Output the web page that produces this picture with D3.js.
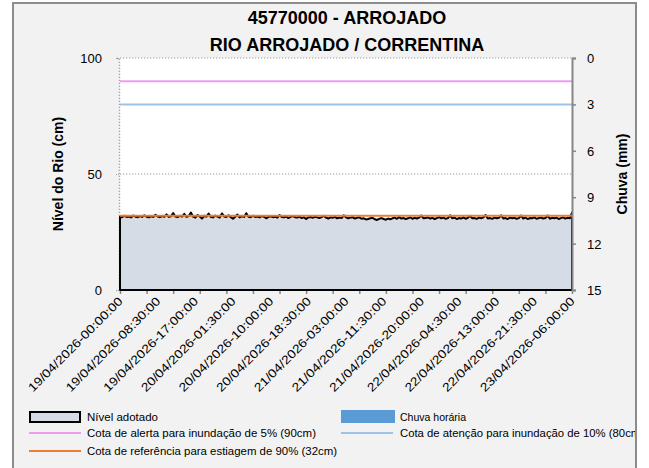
<!DOCTYPE html>
<html>
<head>
<meta charset="utf-8">
<script src="https://cdn.jsdelivr.net/npm/d3@7"></script>
<style>
  body { margin: 0; background: #ffffff; }
  text { font-family: "Liberation Sans", Arial, sans-serif; }
</style>
</head>
<body>
<div id="viz"></div>
<script>
const width = 649;
const height = 468;
const plot = {left: 120, right: 572, top: 58, bottom: 290};

const titleLines = ['45770000 - ARROJADO', 'RIO ARROJADO / CORRENTINA'];
const startTime = '19/04/2026-00:00:00';
const stepMinutes = 30;

// nivel adotado (cm), one value every 30 min from 19/04 00:00 to 23/04 06:00
const nivel = [
  31.6, 31.4, 32.0, 31.5, 31.7, 31.3, 32.1, 31.6, 31.4, 31.9,
  31.5, 32.2, 31.6, 31.3, 31.8, 31.5, 32.4, 31.7, 31.4, 31.9,
  31.6, 32.6, 31.5, 31.8, 33.2, 31.7, 31.4, 32.0, 31.6, 32.8,
  31.5, 31.9, 33.4, 31.6, 31.2, 32.3, 31.7, 30.8, 32.0, 31.6,
  32.9, 31.5, 31.3, 32.1, 31.6, 31.2, 33.0, 31.7, 31.5, 32.2,
  31.4, 30.7, 31.6, 32.5, 31.3, 31.8, 31.5, 33.1, 31.6, 31.4,
  32.0, 31.5, 31.7, 31.3, 31.9, 31.6, 30.9, 31.5, 31.8, 31.4,
  31.6, 31.2, 32.3, 31.5, 31.3, 31.7, 31.0, 31.5, 31.9, 31.4,
  31.2, 31.6, 31.0, 31.4, 30.6, 31.3, 31.5, 31.1, 31.6, 31.3,
  31.0, 31.4, 32.0, 31.2, 30.8, 31.3, 31.1, 31.5, 30.9, 31.2,
  31.0, 32.2, 31.3, 30.9, 31.2, 31.4, 30.8, 31.1, 31.3, 30.7,
  30.9, 30.4, 30.6, 30.9, 31.1, 30.5, 30.2, 30.7, 31.0, 30.6,
  30.3, 30.8, 30.5, 30.9, 31.2, 30.7, 31.4, 30.8, 31.0, 30.6,
  30.9, 31.3, 30.7, 31.1, 30.8, 31.2, 32.1, 30.9, 31.0, 31.3,
  30.8, 31.1, 30.6, 31.0, 31.4, 30.9, 31.2, 30.7, 31.0, 32.2,
  30.9, 31.2, 30.6, 31.0, 30.8, 31.3, 30.7, 31.1, 32.0, 30.9,
  31.0, 30.7, 31.2, 30.9, 31.3, 32.3, 30.8, 31.0, 30.7, 31.2,
  30.9, 31.1, 32.2, 30.8, 31.0, 30.6, 31.2, 30.9, 31.1, 30.7,
  31.0, 32.1, 30.8, 31.2, 30.6, 31.0, 30.9, 31.3, 30.7, 31.0,
  31.2, 30.8, 31.0, 32.1, 30.7, 31.1, 30.9, 31.2, 30.6, 31.0,
  31.3, 30.8, 31.1, 30.9, 33.4
];

const cotaAlerta = 90;
const cotaAtencao = 80;
const cotaReferencia = 32;

const xLabels = [
  '19/04/2026-00:00:00', '19/04/2026-08:30:00', '19/04/2026-17:00:00',
  '20/04/2026-01:30:00', '20/04/2026-10:00:00', '20/04/2026-18:30:00',
  '21/04/2026-03:00:00', '21/04/2026-11:30:00', '21/04/2026-20:00:00',
  '22/04/2026-04:30:00', '22/04/2026-13:00:00', '22/04/2026-21:30:00',
  '23/04/2026-06:00:00'
];
const xTickMarks = [
  '19/04/2026-00:00:00', '19/04/2026-06:00:00', '19/04/2026-12:00:00', '19/04/2026-18:00:00',
  '20/04/2026-00:00:00', '20/04/2026-06:00:00', '20/04/2026-12:00:00', '20/04/2026-18:00:00',
  '21/04/2026-00:00:00', '21/04/2026-06:00:00', '21/04/2026-12:00:00', '21/04/2026-18:00:00',
  '22/04/2026-00:00:00', '22/04/2026-06:00:00', '22/04/2026-12:00:00', '22/04/2026-18:00:00',
  '23/04/2026-00:00:00', '23/04/2026-06:00:00'
];
const yTicks = [0, 50, 100];
const chuvaTicks = [0, 3, 6, 9, 12, 15];

const colors = {
  area: '#d6dce5', alerta: '#ef9cef', atencao: '#9dc3e6',
  referencia: '#ed7d31', chuva: '#5b9bd5'
};

const parse = d3.utcParse('%d/%m/%Y-%H:%M:%S');
const t0 = parse(startTime);
const data = nivel.map((v, i) => ({date: d3.utcMinute.offset(t0, i * stepMinutes), value: v}));

const svg = d3.select('#viz').append('svg')
  .attr('width', width)
  .attr('height', height);

// chart frame
svg.append('rect')
  .attr('x', 13).attr('y', 3)
  .attr('width', 623).attr('height', 475)
  .attr('fill', '#f2f2f2')
  .attr('stroke', '#8c8c8c').attr('stroke-width', 2);

svg.append('clipPath').attr('id', 'frameClip')
  .append('rect').attr('x', 14).attr('y', 4).attr('width', 621).attr('height', 470);

const x = d3.scaleUtc()
  .domain(d3.extent(data, d => d.date))
  .range([plot.left, plot.right]);
const y = d3.scaleLinear().domain([0, 100]).range([plot.bottom, plot.top]);
const yChuva = d3.scaleLinear().domain([0, 15]).range([plot.top, plot.bottom]);

svg.append('rect')
  .attr('x', plot.left).attr('y', plot.top)
  .attr('width', plot.right - plot.left).attr('height', plot.bottom - plot.top)
  .attr('fill', '#ffffff');

// gridlines
svg.append('g').selectAll('line')
  .data(yTicks.filter(d => d > 0))
  .join('line')
  .attr('x1', plot.left).attr('x2', plot.right)
  .attr('y1', d => y(d)).attr('y2', d => y(d))
  .attr('stroke', '#bfbfbf').attr('stroke-width', 1.3)
  .attr('stroke-dasharray', '1.3,1.7');

// left axis (dotted)
const yAxis = svg.append('g')
  .attr('transform', `translate(${plot.left - 1},0)`)
  .call(d3.axisLeft(y).tickValues(yTicks).tickSize(3).tickPadding(14));
yAxis.select('.domain').attr('stroke', '#a6a6a6').attr('stroke-width', 1.5).attr('stroke-dasharray', '1.3,1.7');
yAxis.selectAll('.tick line').attr('stroke', '#a6a6a6').attr('stroke-dasharray', '1,1');
yAxis.selectAll('text').attr('font-size', 13).attr('fill', '#000').attr('dy', '0.35em');

// level area
const area = d3.area()
  .x(d => x(d.date))
  .y0(y(0))
  .y1(d => y(d.value));
svg.append('path')
  .datum(data)
  .attr('d', area)
  .attr('fill', colors.area)
  .attr('stroke', '#000')
  .attr('stroke-width', 2)
  .attr('stroke-linejoin', 'round');

// reference lines
const refs = [
  {value: cotaAlerta, color: colors.alerta},
  {value: cotaAtencao, color: colors.atencao},
  {value: cotaReferencia, color: colors.referencia}
];
svg.append('g').selectAll('line')
  .data(refs)
  .join('line')
  .attr('x1', plot.left).attr('x2', plot.right)
  .attr('y1', d => y(d.value)).attr('y2', d => y(d.value))
  .attr('stroke', d => d.color)
  .attr('stroke-width', 2);

// x axis: tick marks every 6h
const xTicksG = svg.append('g')
  .attr('transform', `translate(0,${plot.bottom})`)
  .call(d3.axisBottom(x).tickValues(xTickMarks.map(parse)).tickSize(4).tickFormat(''));
xTicksG.select('.domain').remove();
xTicksG.selectAll('.tick line').attr('stroke', '#868686').attr('stroke-width', 1.5);

// x axis labels every 8h30
const xLabG = svg.append('g')
  .attr('transform', `translate(0,${plot.bottom})`)
  .call(d3.axisBottom(x).tickValues(xLabels.map(parse)).tickSize(0).tickFormat((d, i) => xLabels[i]));
xLabG.select('.domain').remove();
xLabG.selectAll('text')
  .attr('x', 0).attr('y', 0).attr('dy', 0)
  .attr('transform', 'translate(3,12) rotate(-45)')
  .attr('text-anchor', 'end')
  .attr('font-size', 12)
  .attr('fill', '#000')
  .attr('textLength', 128)
  .attr('lengthAdjust', 'spacingAndGlyphs');

svg.append('line')
  .attr('x1', plot.left).attr('x2', plot.right)
  .attr('y1', plot.bottom).attr('y2', plot.bottom)
  .attr('stroke', '#000').attr('stroke-width', 2);

// right axis (chuva)
const yRight = svg.append('g')
  .attr('transform', `translate(${plot.right},0)`)
  .call(d3.axisRight(yChuva).tickValues(chuvaTicks).tickSize(4).tickPadding(11));
yRight.select('.domain').attr('stroke', '#868686').attr('stroke-width', 2);
yRight.selectAll('.tick line').attr('stroke', '#868686').attr('stroke-width', 1.5);
yRight.selectAll('text').attr('font-size', 13).attr('fill', '#000').attr('dy', '0.35em');

// titles
svg.append('g').selectAll('text')
  .data(titleLines)
  .join('text')
  .attr('x', 347)
  .attr('y', (d, i) => 24 + i * 27)
  .attr('text-anchor', 'middle')
  .attr('font-size', 18)
  .attr('font-weight', 'bold')
  .text(d => d);

svg.append('text')
  .attr('transform', `translate(63,${(plot.top + plot.bottom) / 2}) rotate(-90)`)
  .attr('text-anchor', 'middle')
  .attr('font-size', 14)
  .attr('font-weight', 'bold')
  .text('Nível do Rio (cm)');

svg.append('text')
  .attr('transform', `translate(627,${(plot.top + plot.bottom) / 2}) rotate(-90)`)
  .attr('text-anchor', 'middle')
  .attr('font-size', 14)
  .attr('font-weight', 'bold')
  .text('Chuva (mm)');

// legend
const legend = svg.append('g').attr('clip-path', 'url(#frameClip)');
legend.append('rect')
  .attr('x', 30).attr('y', 412).attr('width', 50).attr('height', 10)
  .attr('fill', colors.area).attr('stroke', '#000').attr('stroke-width', 2);
legend.append('rect')
  .attr('x', 341).attr('y', 410).attr('width', 54).attr('height', 13)
  .attr('fill', colors.chuva);

const legLines = [
  {x: 29, y: 433, color: colors.alerta},
  {x: 341, y: 433, color: colors.atencao},
  {x: 29, y: 451, color: colors.referencia}
];
legend.selectAll('.legline')
  .data(legLines)
  .join('line')
  .attr('x1', d => d.x).attr('x2', d => d.x + 52)
  .attr('y1', d => d.y).attr('y2', d => d.y)
  .attr('stroke', d => d.color).attr('stroke-width', 2);

const legTexts = [
  {x: 87, y: 421, text: 'Nível adotado', len: 71},
  {x: 400, y: 421, text: 'Chuva horária', len: 66},
  {x: 87, y: 437, text: 'Cota de alerta para inundação de 5% (90cm)', len: 229},
  {x: 400, y: 437, text: 'Cota de atenção para inundação de 10% (80cm)', len: 244},
  {x: 87, y: 455, text: 'Cota de referência para estiagem de 90% (32cm)', len: 250}
];
legend.selectAll('.legtext')
  .data(legTexts)
  .join('text')
  .attr('x', d => d.x).attr('y', d => d.y)
  .attr('font-size', 11)
  .attr('textLength', d => d.len)
  .attr('lengthAdjust', 'spacingAndGlyphs')
  .text(d => d.text);
</script>
</body>
</html>
